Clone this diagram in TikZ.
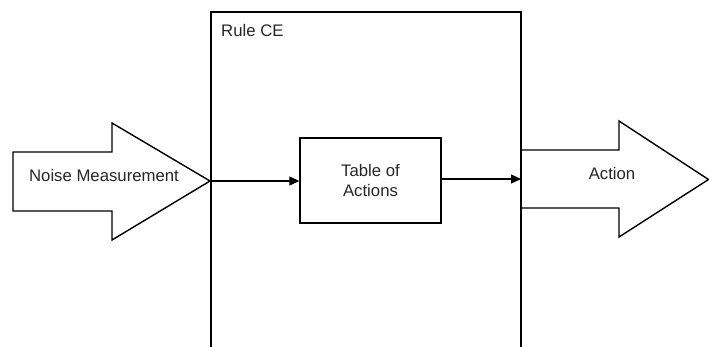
\documentclass[tikz,border=0pt]{standalone}
\usepackage{fontspec}
\setmainfont{Liberation Sans}
\usetikzlibrary{arrows.meta}
\begin{document}
\begin{tikzpicture}[x=1bp,y=-1bp,
  outline/.style={draw=black,line width=1.4bp,line join=miter},
  lbl/.style={font=\fontsize{16.8}{20}\selectfont,text=black!85,inner sep=0pt},
  flow/.style={draw=black,line width=1.2bp,-{Triangle[length=10bp,width=9bp]}}]
  \useasboundingbox (0,0) rectangle (709,346);
  \clip (0,0) rectangle (709,346);

  % input block arrow
  \coordinate (intip) at (210,181);
  \draw[outline,fill=white] (13,152) -- (112,152) -- (112,123) -- (intip)
    -- (112,240) -- (112,211) -- (13,211) -- cycle;
  \node[lbl] (inlbl) at (104,176) {Noise Measurement};

  % output block arrow
  \coordinate (outtail) at (521,179);
  \draw[outline,fill=white] (521,150) -- (619,150) -- (619,121) -- (708.5,179.5)
    -- (619,237) -- (619,208) -- (521,208) -- cycle;
  \node[lbl] (outlbl) at (612,174) {Action};

  % rule container (open past the lower edge)
  \coordinate (rbl) at (211,360);
  \coordinate (rtl) at (211,12);
  \coordinate (rtr) at (521,12);
  \coordinate (rbr) at (521,360);
  \draw[outline] (rbl) -- (rtl) -- (rtr) -- (rbr);
  \node[lbl,anchor=west] (rulelbl) at (221,31) {Rule CE};

  % table of actions
  \node[outline,minimum width=141bp,minimum height=85bp,inner sep=0pt,
        lbl,align=center] (table) at (370.5,180.5) {Table of\\[1bp]Actions};

  % connectors
  \draw[flow] (intip) -- (table.west |- intip);
  \draw[flow] (table.east |- outtail) -- (outtail);
\end{tikzpicture}
\end{document}
